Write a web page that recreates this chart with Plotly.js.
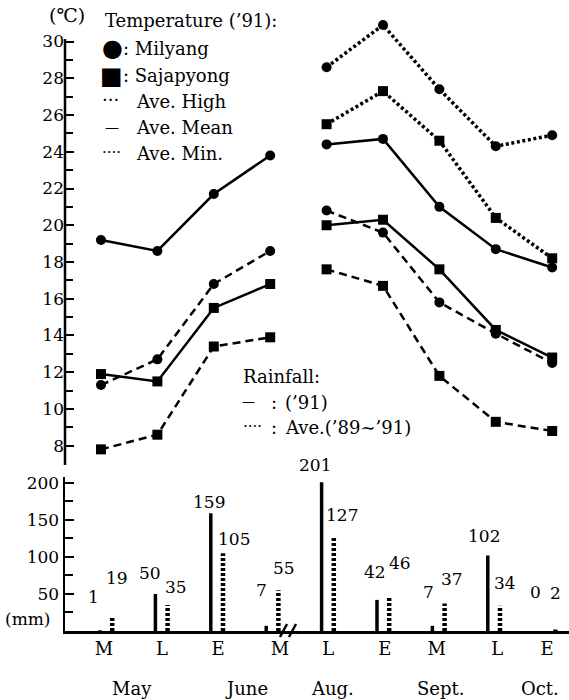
<!DOCTYPE html>
<html>
<head>
<meta charset="utf-8">
<script src="https://cdn.plot.ly/plotly-3.0.1.min.js"></script>
<style>html,body{margin:0;padding:0;background:#fff;}#chart{width:569px;height:700px;}</style>
</head>
<body>
<div id="chart"></div>
<script>
// ---------- DATA ----------
var catLabels = ['M','L','E','M','L','E','M','L','E'];
var monthLabels = ['May','June','Aug.','Sept.','Oct.'];
// Temperature ('91), degC; null = not shown
var milyangHigh    = [null, null, null, null, 28.6, 30.9, 27.4, 24.3, 24.9];
var milyangMean    = [19.2, 18.6, 21.7, 23.8, 24.4, 24.7, 21.0, 18.7, 17.7];
var milyangMin     = [11.3, 12.7, 16.8, 18.6, 20.8, 19.6, 15.8, 14.1, 12.5];
var sajapyongHigh  = [null, null, null, null, 25.5, 27.3, 24.6, 20.4, 18.2];
var sajapyongMean  = [11.9, 11.5, 15.5, 16.8, 20.0, 20.3, 17.6, 14.3, 12.8];
var sajapyongMin   = [7.8, 8.6, 13.4, 13.9, 17.6, 16.7, 11.8, 9.3, 8.8];
// Rainfall, mm
var rain91  = [1, 50, 159, 7, 201, 42, 7, 102, 0];
var rainAve = [19, 35, 105, 55, 127, 46, 37, 34, 2];
var tempTicks = [8,10,12,14,16,18,20,22,24,26,28,30];
var rainTicks = [50,100,150,200];

// ---------- LAYOUT HELPERS (positions/styles) ----------
var W = 569, H = 700;
function px(x){ return x / W; }
function py(y){ return 1 - y / H; }
var FONT = 'DejaVu Serif';
var groups = [[0,1,2,3],[4,5,6,7,8]];
var catTickPos = [0.07,1.12,2.13,3.25,4.12,5.14,6.08,7.17,8.07];
var monthPos = [0.58,2.65,4.2,6.14,7.94];
var aveBarOffset = 0.22;
var lab91Dx = [-7,-5,-2,-5,-7,-2,-4,-4,-8];
var lab91Dy = [33,21,11,36,17,28,34,19,39];
var labAveDx = [5,8,11,6,8,11,7,5,0];
var labAveDy = [39,18,14,22,22,34,25,23,37];
var tempAxisLo = 6.95, tempAxisHi = 30.14;

function seriesXY(vals){
  var x = [], y = [];
  groups.forEach(function(g, gi){
    if (gi > 0){ x.push(null); y.push(null); }
    g.forEach(function(i){
      if (vals[i] !== null){ x.push(i); y.push(vals[i]); }
    });
  });
  return {x:x, y:y};
}
var styles = {
  high: {dash:'3px,2.6px', width:3.5},
  mean: {dash:'solid', width:2.5},
  min:  {dash:'8px,5px', width:2.5}
};
function tempTrace(vals, kind, symbol){
  var s = seriesXY(vals);
  return {
    x: s.x, y: s.y, xaxis:'x', yaxis:'y', type:'scatter', mode:'lines+markers',
    connectgaps:false, cliponaxis:false,
    line:{color:'#000', width:styles[kind].width, dash:styles[kind].dash},
    marker:{symbol:symbol, size:10, color:'#000'},
    hoverinfo:'skip', showlegend:false
  };
}
function barTrace(vals, offset, dash, width){
  var x = [], y = [];
  vals.forEach(function(v, i){ x.push(i+offset, i+offset, null); y.push(0, v, null); });
  return {x:x, y:y, xaxis:'x2', yaxis:'y2', type:'scatter', mode:'lines',
    line:{color:'#000', width:width, dash:dash}, hoverinfo:'skip', showlegend:false};
}

var data = [
  tempTrace(milyangHigh,'high','circle'),
  tempTrace(sajapyongHigh,'high','square'),
  tempTrace(milyangMean,'mean','circle'),
  tempTrace(sajapyongMean,'mean','square'),
  tempTrace(milyangMin,'min','circle'),
  tempTrace(sajapyongMin,'min','square'),
  barTrace(rain91, 0, 'solid', 3.5),
  barTrace(rainAve, aveBarOffset, '3px,2px', 4.5)
];

var ann = [];
function txt(t, x, y, size, anchor){
  ann.push({text:t, xref:'paper', yref:'paper', x:px(x), y:py(y), xanchor:anchor||'left', yanchor:'middle',
    showarrow:false, font:{family:FONT, size:size||18, color:'#000'}});
}
// Temperature legend
txt('(℃)', 47, 15, 19);
txt('Temperature (’91):', 103, 20, 18);
txt('●', 112, 48, 24, 'center');
txt(': Milyang', 121, 48, 18);
txt('■', 111, 76, 24, 'center');
txt(': Sajapyong', 121, 76, 18);
txt('···', 100, 100, 18);
txt('Ave. High', 134, 101, 18);
txt('—', 103, 127, 14);
txt('Ave. Mean', 134, 127, 18);
txt('····', 100, 152, 15);
txt('Ave. Min.', 134, 153, 18);
// Rainfall legend
txt('Rainfall:', 241, 376, 18);
txt('—', 240, 401, 13);
txt(':', 269, 402, 18);
txt('(’91)', 283, 402, 18);
txt('····', 241, 426, 15);
txt(':', 269, 427, 18);
txt('Ave.(’89∼’91)', 283, 427, 18);
txt('(mm)', 3, 619, 17);
// bar value labels
rain91.forEach(function(v,i){
  ann.push({text:String(v), xref:'x2', yref:'y2', x:i, y:v, xshift:lab91Dx[i], yshift:lab91Dy[i],
    xanchor:'center', yanchor:'middle', showarrow:false, font:{family:FONT, size:17, color:'#000'}});
});
rainAve.forEach(function(v,i){
  ann.push({text:String(v), xref:'x2', yref:'y2', x:i+aveBarOffset, y:v, xshift:labAveDx[i], yshift:labAveDy[i],
    xanchor:'center', yanchor:'middle', showarrow:false, font:{family:FONT, size:17, color:'#000'}});
});
// month labels
monthLabels.forEach(function(m,i){
  ann.push({text:m, xref:'x2', yref:'paper', x:monthPos[i], y:py(688), xanchor:'center', yanchor:'middle',
    showarrow:false, font:{family:FONT, size:18, color:'#000'}});
});

var shapes = [
  // temperature axis line (ends just above 30, like the reference)
  {type:'line', xref:'paper', yref:'y', x0:px(65), x1:px(65), y0:tempAxisLo, y1:tempAxisHi, line:{color:'#000', width:2.5}},
  // axis break marks
  {type:'line', xref:'paper', yref:'paper', x0:px(280), y0:py(637), x1:px(287), y1:py(624), line:{color:'#000', width:2.5}},
  {type:'line', xref:'paper', yref:'paper', x0:px(289), y0:py(637), x1:px(296), y1:py(624), line:{color:'#000', width:2.5}}
];

var axFont = {family:FONT, size:17, color:'#000'};
var layout = {
  width:W, height:H, margin:{l:0,r:0,t:0,b:0}, paper_bgcolor:'#fff', plot_bgcolor:'rgba(0,0,0,0)',
  showlegend:false,
  xaxis:{domain:[px(65),1], range:[-0.638,8.298], visible:false, anchor:'y', fixedrange:true},
  yaxis:{domain:[py(465), py(15.8)], range:[tempAxisLo,31.4], anchor:'x', showline:false,
    ticks:'inside', ticklen:9, tickwidth:2, tickcolor:'#000', tickmode:'array', tickvals:tempTicks,
    ticktext:tempTicks.map(String),
    minor:{tickmode:'array', tickvals:[9,11,13,15,17,19,21,23,25,27,29], ticks:'inside', ticklen:8, tickwidth:2, tickcolor:'#000'},
    showgrid:false, zeroline:false, tickfont:axFont, fixedrange:true},
  xaxis2:{domain:[px(65),1], range:[-0.632,8.466], anchor:'y2', showline:true, linewidth:2.5, linecolor:'#000',
    ticks:'', tickmode:'array', tickvals:catTickPos, ticktext:catLabels, showgrid:false, zeroline:false,
    tickfont:{family:FONT, size:18, color:'#000'}, fixedrange:true},
  yaxis2:{domain:[py(631), py(477)], range:[0,208], anchor:'x2', showline:true, linewidth:2.5, linecolor:'#000',
    ticks:'inside', ticklen:9, tickwidth:2, tickcolor:'#000', tickmode:'array', tickvals:rainTicks,
    ticktext:rainTicks.map(String),
    minor:{tickmode:'array', tickvals:[25,75,125,175], ticks:'inside', ticklen:8, tickwidth:2, tickcolor:'#000'},
    showgrid:false, zeroline:false, tickfont:axFont, fixedrange:true},
  annotations:ann, shapes:shapes
};
Plotly.newPlot('chart', data, layout, {staticPlot:true, displayModeBar:false});
</script>
</body>
</html>
